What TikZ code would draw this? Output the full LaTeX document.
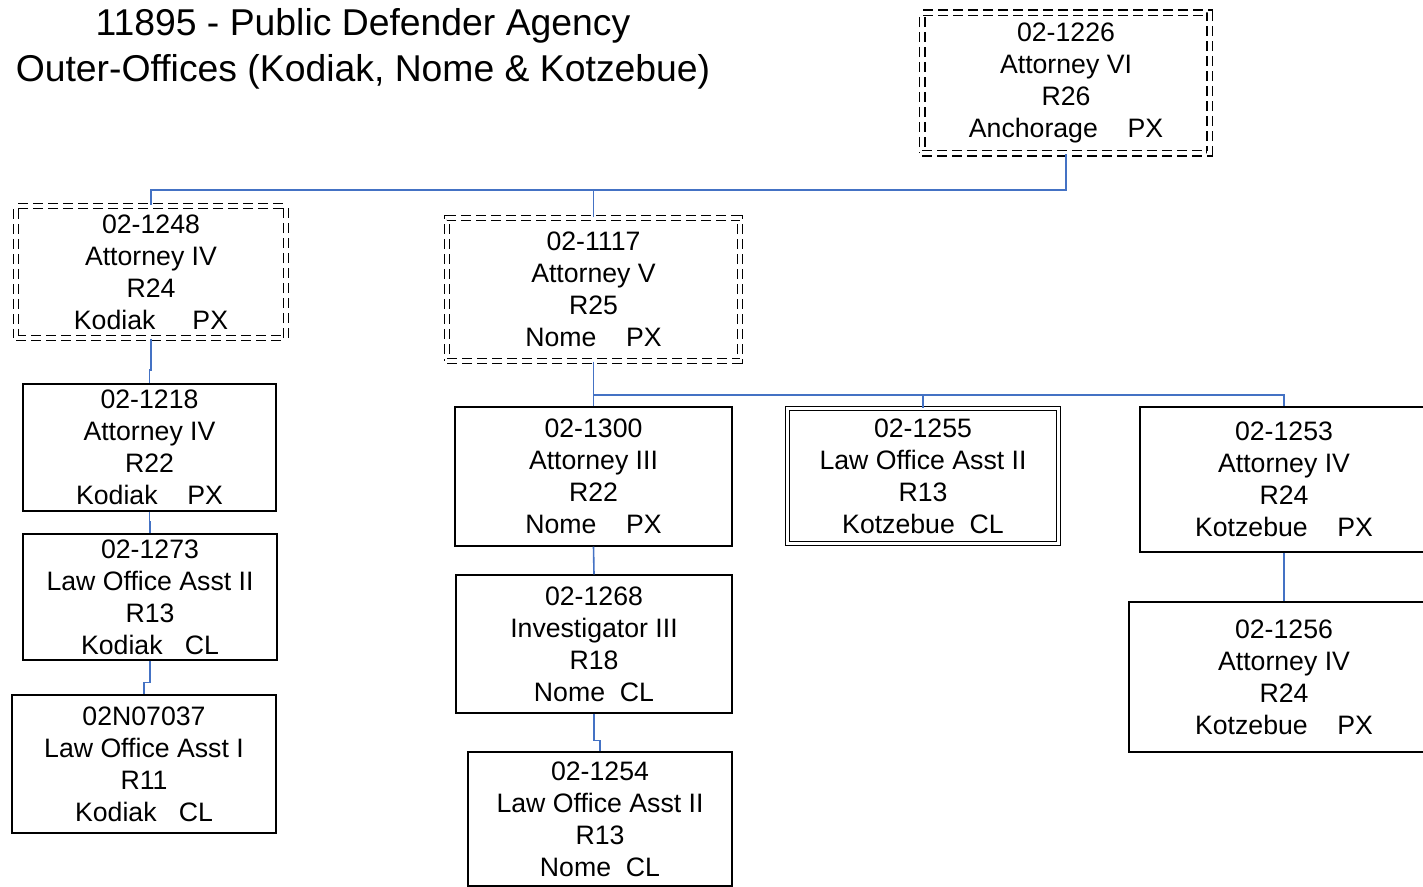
\documentclass[tikz,border=0pt]{standalone}
\usepackage{fontspec}
\setmainfont{Liberation Sans}
\definecolor{linkblue}{HTML}{4472C4}

\tikzset{
  post/.style={draw, line width=0.9pt, align=center, inner sep=0pt,
    font=\fontsize{20}{24}\selectfont},
  vacant/.style={post, line width=1.1pt, dash pattern=on 7.5pt off 3.75pt, double, double distance=3pt},
  heldbox/.style={post, line width=1pt, double, double distance=2.2pt},
  link/.style={draw=linkblue, line width=1.2pt},
}

\begin{document}
\begin{tikzpicture}[x=0.75pt,y=-0.75pt]
   \useasboundingbox (0,0) rectangle (1423,886);

   \node (title) at (363,49) [align=center, font=\fontsize{28}{34}\selectfont]
      {11895 - Public Defender Agency\\Outer-Offices (Kodiak, Nome \& Kotzebue)};

   % top
   \node (p1226) at (1066,83) [vacant, minimum width=215.6pt, minimum height=105.4pt]
      {02-1226\\Attorney VI\\R26\\Anchorage~~~~PX};

   % Kodiak
   \node (p1248) at (151,272) [vacant, minimum width=202.5pt, minimum height=99pt]
      {02-1248\\Attorney IV\\R24\\Kodiak~~~~~PX};
   \node (p1218) at (149.5,447.5) [post, minimum width=189.75pt, minimum height=95.25pt]
      {02-1218\\Attorney IV\\R22\\Kodiak~~~~PX};
   \node (p1273) at (150,597) [post, minimum width=190.5pt, minimum height=94.5pt]
      {02-1273\\Law Office Asst II\\R13\\Kodiak~~~CL};
   \node (p7037) at (144,764) [post, minimum width=198pt, minimum height=103.5pt]
      {02N07037\\Law Office Asst I\\R11\\Kodiak~~~CL};

   % Nome
   \node (p1117) at (593.5,289.5) [vacant, minimum width=219.75pt, minimum height=107.25pt]
      {02-1117\\Attorney V\\R25\\Nome~~~~PX};
   \node (p1300) at (593.5,476.5) [post, minimum width=207.75pt, minimum height=104.25pt]
      {02-1300\\Attorney III\\R22\\Nome~~~~PX};
   \node (p1268) at (594,644) [post, minimum width=207pt, minimum height=103.5pt]
      {02-1268\\Investigator III\\R18\\Nome~~CL};
   \node (p1254) at (600,819) [post, minimum width=198pt, minimum height=100.5pt]
      {02-1254\\Law Office Asst II\\R13\\Nome~~CL};

   % Kotzebue
   \node (p1255) at (923,476) [heldbox, minimum width=203.25pt, minimum height=101.25pt]
      {02-1255\\Law Office Asst II\\R13\\Kotzebue~~CL};
   \node (p1253) at (1284,479.5) [post, minimum width=216pt, minimum height=108.75pt]
      {02-1253\\Attorney IV\\R24\\Kotzebue~~~~PX};
   \node (p1256) at (1284,677) [post, minimum width=232.5pt, minimum height=112.5pt]
      {02-1256\\Attorney IV\\R24\\Kotzebue~~~~PX};

   \coordinate (bus1) at (0,190);
   \coordinate (bus2) at (0,395);

   \draw[link] (p1226.south) |- (p1248.north |- bus1) -- (p1248.north);
   \draw[link] (p1117.north) -- (p1117.north |- bus1);

   \draw[link] (p1248.south) -- ++(0,31) -| (p1218.north);
   \draw[link] (p1218.south) -- ++(0,10) -| (p1273.north);
   \draw[link] (p1273.south) -- ++(0,22) -| (p7037.north);

   \draw[link] (p1117.south) |- (p1253.north |- bus2) -- (p1253.north);
   \draw[link] (p1300.north) -- (p1300.north |- bus2);
   \draw[link] (p1255.north) -- (p1255.north |- bus2);
   \draw[link] (p1300.south) -- (p1268.north);
   \draw[link] (p1268.south) -- ++(0,27) -| (p1254.north);
   \draw[link] (p1253.south) -- (p1256.north);
\end{tikzpicture}
\end{document}
